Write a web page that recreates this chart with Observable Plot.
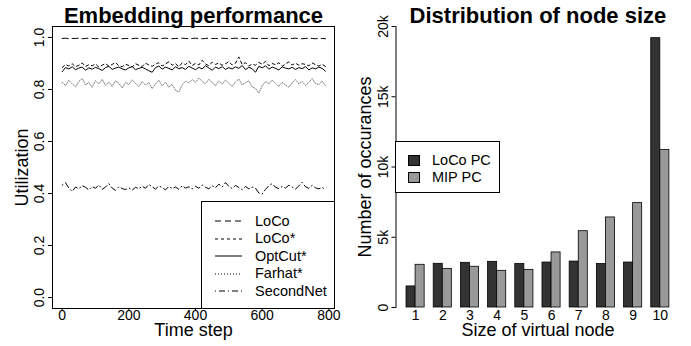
<!DOCTYPE html>
<html><head><meta charset="utf-8">
<script src="https://cdn.jsdelivr.net/npm/d3@7"></script>
<script src="https://cdn.jsdelivr.net/npm/@observablehq/plot@0.6"></script>
<style>
body{margin:0;background:#fff;font-family:"Liberation Sans",Arial,Helvetica,sans-serif;color:#000;}
#wrap{position:relative;width:691px;height:346px;overflow:hidden;}
#left{position:absolute;left:0;top:0;width:345px;height:346px;}
#right{position:absolute;left:345px;top:0;width:346px;height:346px;}
.legend{position:absolute;border:1px solid #000;background:#fff;box-sizing:border-box;}
.item{position:absolute;font-size:14.5px;line-height:16px;white-space:nowrap;}
.sw{position:absolute;}
</style></head>
<body>
<div id="wrap">
  <div id="left"></div>
  <div id="right"></div>
  <div class="legend" id="legL" style="left:201px;top:201px;width:134px;height:108px;"></div>
  <div class="legend" id="legR" style="left:395px;top:141px;width:105px;height:52px;"></div>
</div>
<script>
// ---------- Left chart data ----------
const timeSteps = d3.range(0, 800, 10);
const xTicksLeft = [0, 200, 400, 600, 800];
const yTicksLeft = [0, 0.2, 0.4, 0.6, 0.8, 1.0];
const seriesNames = ["LoCo", "LoCo*", "OptCut*", "Farhat*", "SecondNet"];
const loco = [0.996,0.997,0.995,0.996,0.996,0.997,0.995,0.996,0.997,0.996,
0.995,0.996,0.997,0.996,0.995,0.996,0.996,0.997,0.995,0.996,
0.996,0.995,0.997,0.996,0.996,0.995,0.996,0.997,0.996,0.995,
0.996,0.997,0.996,0.995,0.996,0.996,0.997,0.996,0.995,0.996,
0.997,0.996,0.995,0.996,0.997,0.996,0.996,0.995,0.997,0.996,
0.995,0.996,0.997,0.996,0.996,0.995,0.996,0.997,0.996,0.995,
0.996,0.996,0.997,0.995,0.996,0.997,0.996,0.995,0.996,0.996,
0.997,0.996,0.995,0.996,0.997,0.996,0.995,0.996,0.996,0.995];
const locoStar = [0.884,0.896,0.890,0.899,0.887,0.893,0.902,0.888,0.895,0.891,
0.898,0.886,0.893,0.900,0.889,0.896,0.904,0.891,0.887,0.897,
0.892,0.886,0.899,0.893,0.888,0.901,0.894,0.889,0.897,0.903,
0.890,0.898,0.906,0.893,0.899,0.887,0.902,0.895,0.909,0.892,
0.900,0.894,0.912,0.898,0.891,0.905,0.896,0.902,0.893,0.899,
0.907,0.894,0.901,0.925,0.896,0.903,0.890,0.898,0.893,0.904,
0.897,0.908,0.891,0.900,0.895,0.903,0.889,0.898,0.906,0.894,
0.901,0.893,0.899,0.896,0.891,0.902,0.895,0.890,0.897,0.888];
const optCut = [0.868,0.884,0.879,0.887,0.876,0.882,0.886,0.874,0.883,0.878,
0.885,0.880,0.873,0.884,0.889,0.877,0.882,0.886,0.879,0.875,
0.883,0.888,0.876,0.881,0.885,0.879,0.872,0.866,0.884,0.890,
0.878,0.886,0.881,0.875,0.887,0.880,0.884,0.877,0.889,0.882,
0.876,0.885,0.879,0.891,0.883,0.874,0.886,0.880,0.888,0.877,
0.884,0.879,0.887,0.881,0.892,0.876,0.885,0.880,0.866,0.889,
0.883,0.891,0.878,0.886,0.881,0.875,0.887,0.882,0.879,0.885,
0.877,0.884,0.880,0.888,0.875,0.883,0.879,0.886,0.881,0.870];
const farhat = [0.828,0.815,0.836,0.822,0.810,0.831,0.842,0.818,0.826,0.808,
0.834,0.821,0.839,0.816,0.829,0.812,0.833,0.824,0.806,0.827,
0.819,0.837,0.823,0.811,0.830,0.817,0.826,0.803,0.821,0.835,
0.814,0.828,0.809,0.820,0.797,0.790,0.818,0.832,0.825,0.838,
0.827,0.844,0.831,0.822,0.839,0.826,0.815,0.833,0.820,0.836,
0.824,0.812,0.829,0.840,0.818,0.826,0.833,0.810,0.804,0.786,
0.814,0.830,0.821,0.836,0.824,0.812,0.828,0.817,0.809,0.825,
0.838,0.822,0.831,0.815,0.827,0.842,0.823,0.818,0.832,0.814];
const secondNet = [0.432,0.442,0.421,0.408,0.425,0.418,0.430,0.424,0.414,0.427,
0.420,0.433,0.416,0.425,0.438,0.421,0.412,0.426,0.419,0.415,
0.422,0.413,0.424,0.418,0.428,0.420,0.435,0.426,0.417,0.429,
0.423,0.414,0.427,0.419,0.425,0.416,0.430,0.421,0.426,0.418,
0.428,0.420,0.433,0.424,0.418,0.430,0.422,0.436,0.425,0.442,
0.428,0.419,0.431,0.423,0.415,0.427,0.418,0.425,0.420,0.402,
0.398,0.416,0.430,0.438,0.424,0.419,0.427,0.421,0.432,0.425,
0.417,0.429,0.443,0.426,0.420,0.431,0.422,0.418,0.424,0.414];

// ---------- Right chart data ----------
const categories = ["1","2","3","4","5","6","7","8","9","10"];
const barSeries = ["LoCo PC", "MIP PC"];
const locoPC = [1500, 3110, 3180, 3250, 3090, 3200, 3270, 3090, 3200, 19170];
const mipPC  = [3040, 2750, 2900, 2610, 2680, 3920, 5430, 6410, 7430, 11220];
const yTicksRight = [0, 5000, 10000, 15000, 20000];

const FONT = "'Liberation Sans', Arial, Helvetica, sans-serif";
const lineStyles = {"LoCo": "6,4", "LoCo*": "3,3", "OptCut*": null, "Farhat*": "1,1.5", "SecondNet": "1,3,6,3"};
const lineColors = {"LoCo": "#000", "LoCo*": "#000", "OptCut*": "#000", "Farhat*": "#777", "SecondNet": "#000"};
const seriesValues = {"LoCo": loco, "LoCo*": locoStar, "OptCut*": optCut, "Farhat*": farhat, "SecondNet": secondNet};

const lineMarks = seriesNames.map(name => Plot.line(seriesValues[name], {
  x: (d, i) => timeSteps[i], y: d => d,
  stroke: lineColors[name], strokeWidth: 1,
  strokeDasharray: lineStyles[name] ?? undefined
}));

const leftPlot = Plot.plot({
  width: 345, height: 346,
  marginLeft: 52, marginRight: 11, marginTop: 26, marginBottom: 38,
  style: {fontFamily: FONT, background: "transparent", color: "#000", overflow: "visible"},
  x: {domain: [-29, 817]},
  y: {domain: [-0.042, 1.042]},
  marks: [
    ...lineMarks,
    Plot.frame({stroke: "#000", strokeWidth: 1}),
    Plot.axisY({ticks: yTicksLeft, tickFormat: d3.format(".1f"), tickSize: 4, tickPadding: 5, tickRotate: -90, fontSize: 14, label: null}),
    Plot.axisX({ticks: xTicksLeft, tickSize: 3, tickPadding: -1, fontSize: 14, label: null}),
    Plot.text(["Embedding performance"], {text: d => d, frameAnchor: "top", dy: -4, lineAnchor: "bottom", textAnchor: "middle", fontSize: 22, fontWeight: "bold"}),
    Plot.text(["Utilization"], {text: d => d, frameAnchor: "left", dx: -25, rotate: -90, lineAnchor: "bottom", textAnchor: "middle", fontSize: 18}),
    Plot.text(["Time step"], {text: d => d, frameAnchor: "bottom", dy: 27.5, lineAnchor: "bottom", textAnchor: "middle", fontSize: 18})
  ]
});
document.getElementById("left").appendChild(leftPlot);

// bars: R barplot(beside) layout, group i occupies units [3i-2, 3i]
const barRows = categories.flatMap((c, i) => [
  {cat: c, s: barSeries[0], v: locoPC[i], x1: 3 * (i + 1) - 2, x2: 3 * (i + 1) - 1},
  {cat: c, s: barSeries[1], v: mipPC[i], x1: 3 * (i + 1) - 1, x2: 3 * (i + 1)}
]);
const groupCenters = categories.map((c, i) => 3 * (i + 1) - 1);

const rightPlot = Plot.plot({
  width: 346, height: 346,
  marginLeft: 50.5, marginRight: 11.6, marginTop: 26, marginBottom: 39,
  style: {fontFamily: FONT, background: "transparent", color: "#000", overflow: "visible"},
  x: {domain: [-0.16, 31.16]},
  y: {domain: [0, 20000]},
  color: {domain: barSeries, range: ["#333333", "#999999"]},
  marks: [
    Plot.rectY(barRows, {x1: "x1", x2: "x2", y: "v", fill: "s", stroke: "#000", strokeWidth: 0.8}),
    Plot.frame({anchor: "left", stroke: "#000"}),
    Plot.axisY({ticks: yTicksRight, tickFormat: d => d === 0 ? "0" : (d / 1000) + "k", tickSize: 4, tickPadding: 4, tickRotate: -90, fontSize: 14, label: null}),
    Plot.axisX({ticks: groupCenters, tickFormat: d => categories[(d + 1) / 3 - 1], tickSize: 0, tickPadding: 3, fontSize: 14, label: null}),
    Plot.text(["Distribution of node size"], {text: d => d, frameAnchor: "top", dy: -4, lineAnchor: "bottom", textAnchor: "middle", fontSize: 22, fontWeight: "bold"}),
    Plot.text(["Number of occurances"], {text: d => d, frameAnchor: "left", dx: -25.5, rotate: -90, lineAnchor: "bottom", textAnchor: "middle", fontSize: 18}),
    Plot.text(["Size of virtual node"], {text: d => d, frameAnchor: "bottom", dy: 28.5, lineAnchor: "bottom", textAnchor: "middle", fontSize: 18})
  ]
});
document.getElementById("right").appendChild(rightPlot);

// ---------- Legends ----------
const legL = document.getElementById("legL");
seriesNames.forEach((name, i) => {
  const cy = 19 + i * 17.5; // relative to box top
  const sw = document.createElementNS("http://www.w3.org/2000/svg", "svg");
  sw.setAttribute("class", "sw");
  sw.setAttribute("width", 30); sw.setAttribute("height", 4);
  sw.style.left = "13px"; sw.style.top = (cy - 2) + "px";
  const ln = document.createElementNS("http://www.w3.org/2000/svg", "line");
  ln.setAttribute("x1", 0); ln.setAttribute("x2", 27); ln.setAttribute("y1", 2); ln.setAttribute("y2", 2);
  ln.setAttribute("stroke", name === "Farhat*" ? "#000" : lineColors[name]); ln.setAttribute("stroke-width", 1);
  if (lineStyles[name]) ln.setAttribute("stroke-dasharray", name === "Farhat*" ? "1,2" : lineStyles[name]);
  sw.appendChild(ln); legL.appendChild(sw);
  const t = document.createElement("div");
  t.className = "item"; t.textContent = name;
  t.style.left = "53px"; t.style.top = (cy - 8.5) + "px";
  legL.appendChild(t);
});
const legR = document.getElementById("legR");
const barColors = ["#333333", "#999999"];
barSeries.forEach((name, i) => {
  const cy = 18 + i * 17;
  const sq = document.createElement("div");
  sq.style.cssText = `position:absolute;left:12px;top:${cy - 5.5}px;width:12px;height:11px;background:${barColors[i]};border:1px solid #000;box-sizing:border-box;`;
  legR.appendChild(sq);
  const t = document.createElement("div");
  t.className = "item"; t.textContent = name;
  t.style.left = "36px"; t.style.top = (cy - 8.5) + "px";
  legR.appendChild(t);
});
</script>
</body></html>
